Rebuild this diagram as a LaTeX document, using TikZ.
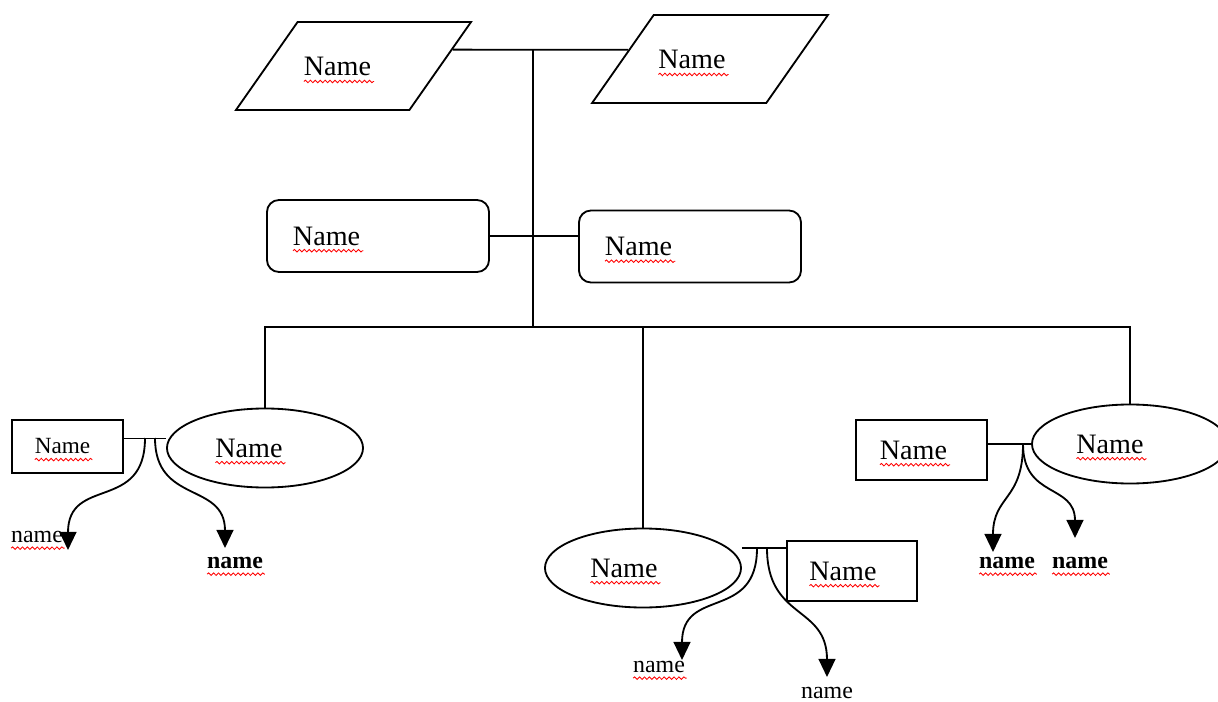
\documentclass[tikz,border=0pt]{standalone}
\usepackage{fontspec}
\setmainfont{Liberation Serif}
\usetikzlibrary{shapes.geometric,arrows.meta,calc,decorations.pathmorphing}
\tikzset{>={Triangle[length=0.45cm,width=0.42cm]}}
\tikzset{
  big/.style = {font=\fontsize{20}{24}\selectfont},
  small/.style = {font=\fontsize{17}{20}\selectfont, inner sep=0pt},
  smallb/.style = {font=\fontsize{17}{20}\selectfont\bfseries, inner sep=0pt},
  push/.style = {execute at end node={\hspace*{#1}}},
  para/.style = {draw, trapezium, trapezium left angle=55, trapezium right angle=125,
    trapezium stretches body, text height=14pt, text depth=0pt, inner ysep=24.3pt,
    minimum width=5.875cm, big},
  card/.style = {draw, rounded corners=0.3cm, minimum width=5.55cm, minimum height=1.8cm,
    text width=4.25cm, inner xsep=0.65cm, align=left, big},
  oval/.style = {draw, ellipse, minimum width=4.9cm, minimum height=1.975cm, big},
  box/.style = {draw, rectangle, big},
  sqline/.style = {red, line width=0.6pt, decorate,
    decoration={snake, amplitude=0.9pt, segment length=3.5pt}}
}

\begin{document}
\begin{tikzpicture}[x=0.025cm,y=0.025cm,line width=1.3pt]
  \useasboundingbox (0,0) rectangle (1218,-702);
  % top pair
  \node[para,push=0.8cm] (lp) at (353.5,-66) {Name};
  \node[para,push=0.9cm] (rp) at (710,-59) {Name};
  \coordinate (top) at (533,-50);
  \coordinate (bus) at (533,-327);
  \draw ($(lp.top right corner)!0.318!(lp.bottom right corner)$)
    -- ($(rp.top left corner)!0.398!(rp.bottom left corner)$);
  \draw (top) -- (bus);
  % second pair
  \node[card] (lc) at (378,-236) {Name};
  \node[card] (rc) at (690,-246.5) {Name};
  \draw (lc.east) -- (lc.east -| rc.west);
  % bottom row
  \node[oval,push=0.8cm] (lo) at (265,-448) {Name};
  \node[oval,push=0.95cm] (mo) at (643,-568) {Name};
  \node[oval,push=1cm] (ro) at (1130,-444) {Name};
  \draw (lo.north) |- (bus) -| (ro.north);
  \draw (mo.north) -- (mo.north |- bus);
  \node[box,minimum width=2.775cm,minimum height=1.325cm,font=\fontsize{16.5}{20}\selectfont,push=0.25cm] (lb) at (67.5,-446.5) {Name};
  \node[box,minimum width=3.25cm,minimum height=1.5cm,push=0.45cm] (mb) at (852,-571) {Name};
  \node[box,minimum width=3.275cm,minimum height=1.5cm,push=0.4cm] (rb) at (921.5,-450) {Name};
  % left group
  \draw ([yshift=0.2cm]lb.east) -- ([yshift=0.2cm]lb.east -| lo.west);
  \coordinate (lj1) at (145,-438);
  \coordinate (lj2) at (155,-438);
  \coordinate (la1) at (68,-550);
  \coordinate (la2) at (225,-548);
  \node[small] (l1) at (37,-537) {name};
  \node[smallb] (l2) at (235,-563) {name};
  \draw[->] (lj1) to[out=-90,in=90,looseness=1.4] (la1);
  \draw[->] (lj2) to[out=-90,in=90,looseness=1.3] (la2);
  % middle group
  \draw ([yshift=0.5cm]mo.east) -- ([yshift=0.5cm]mo.east -| mb.west);
  \coordinate (mj1) at (757,-548);
  \coordinate (mj2) at (767,-548);
  \coordinate (ma1) at (682,-660);
  \coordinate (ma2) at (827,-677);
  \node[small] (m1) at (659,-667) {name};
  \node[small] (m2) at (827,-693) {name};
  \draw[->] (mj1) to[out=-90,in=90,looseness=1.4] (ma1);
  \draw[->] (mj2) to[out=-90,in=90,looseness=1.3] (ma2);
  % right group
  \draw (rb.east |- ro.west) -- (ro.west);
  \coordinate (rj) at (1023,-444);
  \coordinate (ra1) at (993,-552);
  \coordinate (ra2) at (1075,-538);
  \node[smallb] (r1) at (1007,-563) {name};
  \node[smallb] (r2) at (1080,-563) {name};
  \draw[->] (rj) to[out=-90,in=90,looseness=1.3] (ra1);
  \draw[->] (rj) to[out=-90,in=90,looseness=1.3] (ra2);
  % spelling marks
  \foreach \n/\w in {lp/50pt,rp/50pt,lc/50pt,rc/50pt,lo/50pt,mo/50pt,ro/50pt,mb/50pt,rb/50pt,lb/41pt,l1/38pt,m1/38pt,m2/38pt,l2/41pt,r1/41pt,r2/41pt}
    \draw[sqline] ([yshift=-4pt]\n.text) -- ++(\w,0);
\end{tikzpicture}
\end{document}
